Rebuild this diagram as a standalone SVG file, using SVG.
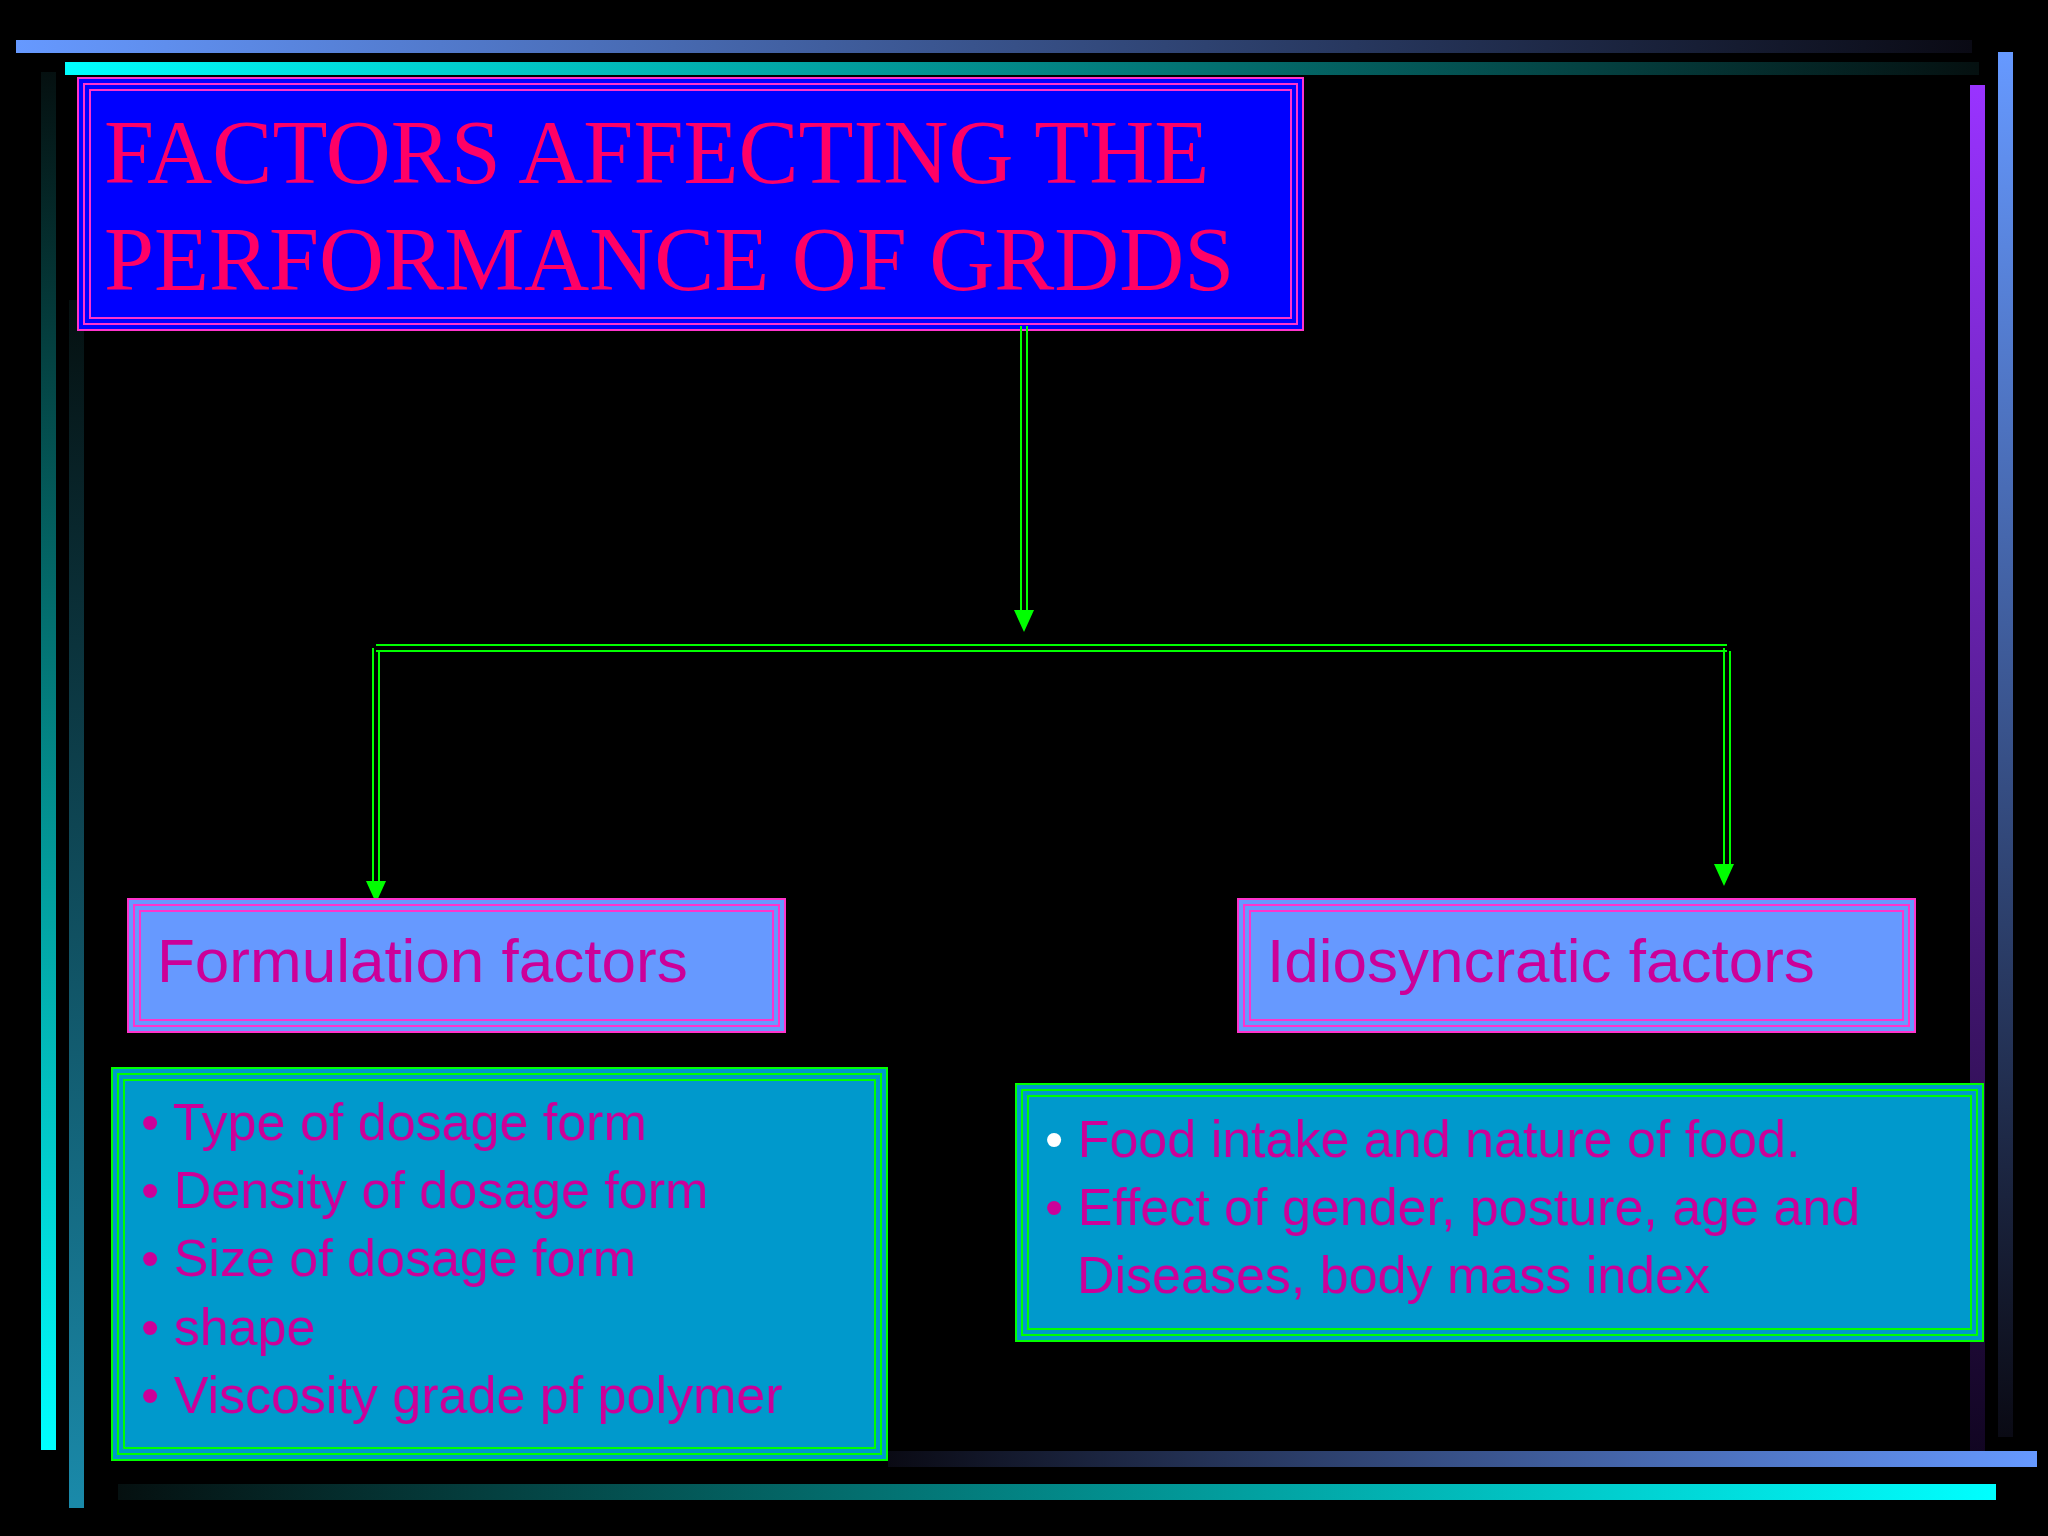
<svg xmlns="http://www.w3.org/2000/svg" width="2048" height="1536" viewBox="0 0 2048 1536">
<defs>
<linearGradient id="gTop1" x1="0" x2="1" y1="0" y2="0"><stop offset="0" stop-color="#6699ff"/><stop offset="1" stop-color="#0a0a14"/></linearGradient>
<linearGradient id="gTop2" x1="0" x2="1" y1="0" y2="0"><stop offset="0" stop-color="#00ffff"/><stop offset="1" stop-color="#051010"/></linearGradient>
<linearGradient id="gL1" x1="0" x2="0" y1="0" y2="1"><stop offset="0" stop-color="#051010"/><stop offset="1" stop-color="#00ffff"/></linearGradient>
<linearGradient id="gL2" x1="0" x2="0" y1="0" y2="1"><stop offset="0" stop-color="#051010"/><stop offset="1" stop-color="#1a8aaa"/></linearGradient>
<linearGradient id="gR1" x1="0" x2="0" y1="0" y2="1"><stop offset="0" stop-color="#9933ff"/><stop offset="1" stop-color="#100520"/></linearGradient>
<linearGradient id="gR2" x1="0" x2="0" y1="0" y2="1"><stop offset="0" stop-color="#6699ff"/><stop offset="1" stop-color="#0a0a14"/></linearGradient>
<linearGradient id="gB1" x1="0" x2="1" y1="0" y2="0"><stop offset="0" stop-color="#0a0a14"/><stop offset="1" stop-color="#6699ff"/></linearGradient>
<linearGradient id="gB2" x1="0" x2="1" y1="0" y2="0"><stop offset="0" stop-color="#051010"/><stop offset="1" stop-color="#00ffff"/></linearGradient>
<marker id="arr" markerWidth="10" markerHeight="10" refX="5" refY="8" orient="auto" markerUnits="userSpaceOnUse" viewBox="0 0 10 10"><path d="M0,0 L10,0 L5,10 Z" fill="#00ff00"/></marker>
</defs>
<style>
.t{font-family:"Liberation Serif",serif;font-size:90px;fill:#ff0066}
.h{font-family:"Liberation Sans",Arial,sans-serif;font-size:62px;fill:#cc0099}
.l{font-family:"Liberation Sans",Arial,sans-serif;font-size:52px;fill:#cc0099}
.m{fill:none;stroke:#ff33cc;stroke-width:2}
.g{fill:none;stroke:#00ff00;stroke-width:2}
.c{fill:none;stroke:#00ff00;stroke-width:2}
</style>
<rect width="2048" height="1536" fill="#000"/>
<rect x="16" y="40" width="1956" height="13" fill="url(#gTop1)"/>
<rect x="65" y="62" width="1914" height="13" fill="url(#gTop2)"/>
<rect x="41" y="72" width="15" height="1378" fill="url(#gL1)"/>
<rect x="69" y="300" width="15" height="1208" fill="url(#gL2)"/>
<rect x="1970" y="85" width="15" height="1378" fill="url(#gR1)"/>
<rect x="1998" y="52" width="15" height="1385" fill="url(#gR2)"/>
<rect x="888" y="1451" width="1149" height="16" fill="url(#gB1)"/>
<rect x="118" y="1484" width="1878" height="16" fill="url(#gB2)"/>

<g id="title">
<rect x="78" y="78" width="1225" height="252" fill="#0000ff"/>
<rect x="78" y="78" width="1225" height="252" class="m"/>
<rect x="84" y="84" width="1213" height="240" class="m"/>
<rect x="90" y="90" width="1201" height="228" class="m"/>
<text class="t" x="104" y="183">FACTORS AFFECTING THE</text>
<text class="t" x="104" y="290">PERFORMANCE OF GRDDS</text>
</g>

<g id="connectors">
<path class="c" d="M1021,326 V620 M1027,326 V620"/>
<path d="M1014,610 L1034,610 L1024,632 Z" fill="#00ff00"/>
<path class="c" d="M376,645 H1727 M376,651 H1727"/>
<path class="c" d="M373,648 V885 M379,651 V885"/>
<path d="M366,881 L386,881 L376,903 Z" fill="#00ff00"/>
<path class="c" d="M1724,648 V868 M1730,651 V868"/>
<path d="M1714,864 L1734,864 L1724,886 Z" fill="#00ff00"/>
</g>

<g id="formulation">
<rect x="128" y="899" width="657" height="133" fill="#6699ff"/>
<rect x="128" y="899" width="657" height="133" class="m"/>
<rect x="134" y="905" width="645" height="121" class="m"/>
<rect x="140" y="911" width="633" height="109" class="m"/>
<text class="h" x="157" y="982">Formulation factors</text>
</g>

<g id="idiosyncratic">
<rect x="1238" y="899" width="677" height="133" fill="#6699ff"/>
<rect x="1238" y="899" width="677" height="133" class="m"/>
<rect x="1244" y="905" width="665" height="121" class="m"/>
<rect x="1250" y="911" width="653" height="109" class="m"/>
<text class="h" x="1267" y="982">Idiosyncratic factors</text>
</g>

<g id="formulation-list">
<rect x="112" y="1068" width="775" height="392" fill="#0099cc"/>
<rect x="112" y="1068" width="775" height="392" class="g"/>
<rect x="118" y="1074" width="763" height="380" class="g"/>
<rect x="124" y="1080" width="751" height="368" class="g"/>
<text class="l" x="141" y="1140">• Type of dosage form</text>
<text class="l" x="141" y="1208">• Density of dosage form</text>
<text class="l" x="141" y="1276">• Size of dosage form</text>
<text class="l" x="141" y="1345">• shape</text>
<text class="l" x="141" y="1413">• Viscosity grade pf polymer</text>
</g>

<g id="idiosyncratic-list">
<rect x="1016" y="1084" width="967" height="257" fill="#0099cc"/>
<rect x="1016" y="1084" width="967" height="257" class="g"/>
<rect x="1022" y="1090" width="955" height="245" class="g"/>
<rect x="1028" y="1096" width="943" height="233" class="g"/>
<text class="l" x="1045" y="1157"><tspan fill="#ffffff">•</tspan> Food intake and nature of food.</text>
<text class="l" x="1045" y="1225">• Effect of gender, posture, age and</text>
<text class="l" x="1077" y="1293">Diseases, body mass index</text>
</g>
</svg>
